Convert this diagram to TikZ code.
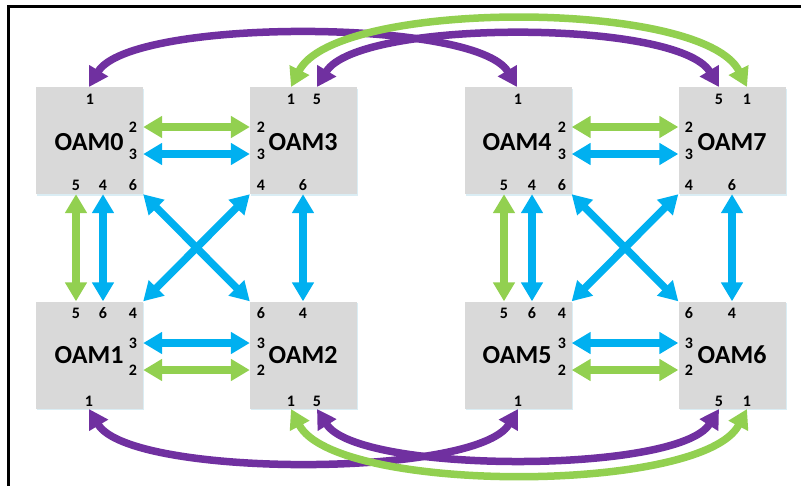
\documentclass[tikz,border=0pt]{standalone}
\usepackage{fontspec}
\setmainfont{Carlito}
\usetikzlibrary{arrows.meta,shadows}
\definecolor{cgreen}{HTML}{92D050}
\definecolor{cblue}{HTML}{00B0F0}
\definecolor{cpurple}{HTML}{7030A0}
\definecolor{cbox}{HTML}{D9D9D9}
\tikzset{
  oambox/.style={draw=none,fill=cbox,minimum width=107pt,minimum height=107pt,inner sep=0pt,
    drop shadow={opacity=0.18,shadow xshift=1pt,shadow yshift=-1.5pt,fill=cblue!60!gray}},
  oamlabel/.style={font=\bfseries\fontsize{26}{26}\selectfont,inner sep=0pt},
  port/.style={font=\bfseries\fontsize{16}{16}\selectfont,inner sep=0pt},
  link/.style={line width=7.5pt,{Triangle[width=21pt,length=19pt]}-{Triangle[width=21pt,length=19pt]}},
  glink/.style={link,draw=cgreen},
  blink/.style={link,draw=cblue},
  plink/.style={link,draw=cpurple},
}
\begin{document}
\begin{tikzpicture}[x=1pt,y=-1pt]
\useasboundingbox (0,0) rectangle (801,485);
\clip (0,0) rectangle (801,485);
\draw[line width=3pt] (8.5,6.5) rectangle (830,510);
% boxes
\node[oambox] (b0) at (89.5,140.5) {};
\node[oambox] (b3) at (303.5,140.5) {};
\node[oambox] (b4) at (518,140.5) {};
\node[oambox] (b7) at (732,140.5) {};
\node[oambox] (b1) at (89.5,355) {};
\node[oambox] (b2) at (303.5,355) {};
\node[oambox] (b5) at (518,355) {};
\node[oambox] (b6) at (732,355) {};
% labels
\node[oamlabel] (l0) at (89,142) {OAM0};
\node[oamlabel] (l3) at (303,142) {OAM3};
\node[oamlabel] (l4) at (517,142) {OAM4};
\node[oamlabel] (l7) at (732,142) {OAM7};
\node[oamlabel] (l1) at (89,355) {OAM1};
\node[oamlabel] (l2) at (303,355) {OAM2};
\node[oamlabel] (l5) at (517,355) {OAM5};
\node[oamlabel] (l6) at (732,355) {OAM6};
% ports OAM0
\node[port] (n0a) at (90,99) {1};
\node[port] (n0b) at (133,127) {2};
\node[port] (n0c) at (133,154) {3};
\node[port] (n0d) at (76,185) {5};
\node[port] (n0e) at (103,185) {4};
\node[port] (n0f) at (133,185) {6};
% OAM3
\node[port] (n3a) at (291,99) {1};
\node[port] (n3b) at (317,99) {5};
\node[port] (n3c) at (261,127) {2};
\node[port] (n3d) at (261,154) {3};
\node[port] (n3e) at (261,185) {4};
\node[port] (n3f) at (303,185) {6};
% OAM4
\node[port] (n4a) at (518,99) {1};
\node[port] (n4b) at (562,127) {2};
\node[port] (n4c) at (562,154) {3};
\node[port] (n4d) at (504,185) {5};
\node[port] (n4e) at (532,185) {4};
\node[port] (n4f) at (562,185) {6};
% OAM7
\node[port] (n7a) at (719,99) {5};
\node[port] (n7b) at (747,99) {1};
\node[port] (n7c) at (689,127) {2};
\node[port] (n7d) at (689,154) {3};
\node[port] (n7e) at (689,185) {4};
\node[port] (n7f) at (732,185) {6};
% OAM1
\node[port] (n1a) at (76,313) {5};
\node[port] (n1b) at (103,313) {6};
\node[port] (n1c) at (133,313) {4};
\node[port] (n1d) at (133,343) {3};
\node[port] (n1e) at (133,370) {2};
\node[port] (n1f) at (89,401) {1};
% OAM2
\node[port] (n2a) at (261,313) {6};
\node[port] (n2b) at (303,313) {4};
\node[port] (n2c) at (261,343) {3};
\node[port] (n2d) at (261,370) {2};
\node[port] (n2e) at (291,401) {1};
\node[port] (n2f) at (317,401) {5};
% OAM5
\node[port] (n5a) at (504,313) {5};
\node[port] (n5b) at (532,313) {6};
\node[port] (n5c) at (562,313) {4};
\node[port] (n5d) at (562,343) {3};
\node[port] (n5e) at (562,370) {2};
\node[port] (n5f) at (518,401) {1};
% OAM6
\node[port] (n6a) at (689,313) {6};
\node[port] (n6b) at (732,313) {4};
\node[port] (n6c) at (689,343) {3};
\node[port] (n6d) at (689,370) {2};
\node[port] (n6e) at (719,401) {5};
\node[port] (n6f) at (747,401) {1};
% connector end points
\coordinate (t0) at (89,87);   \coordinate (t4) at (517,87);
\coordinate (t3a) at (291,87); \coordinate (t3b) at (317,87);
\coordinate (t7a) at (719,87); \coordinate (t7b) at (747,87);
\coordinate (u1) at (89,409);  \coordinate (u5) at (518,409);
\coordinate (u2a) at (291,409);\coordinate (u2b) at (317,409);
\coordinate (u6a) at (719,409);\coordinate (u6b) at (747,409);
% horizontal links
\draw[glink] (b0.east |- n0b) -- (b3.west |- n3c);
\draw[blink] (b0.east |- n0c) -- (b3.west |- n3d);
\draw[blink] (b1.east |- n1d) -- (b2.west |- n2c);
\draw[glink] (b1.east |- n1e) -- (b2.west |- n2d);
\draw[glink] (b4.east |- n4b) -- (b7.west |- n7c);
\draw[blink] (b4.east |- n4c) -- (b7.west |- n7d);
\draw[blink] (b5.east |- n5d) -- (b6.west |- n6c);
\draw[glink] (b5.east |- n5e) -- (b6.west |- n6d);
% vertical links
\draw[glink] (n0d |- b0.south) -- (n1a |- b1.north);
\draw[blink] (n0e |- b0.south) -- (n1b |- b1.north);
\draw[blink] (n3f |- b3.south) -- (n2b |- b2.north);
\draw[glink] (n4d |- b4.south) -- (n5a |- b5.north);
\draw[blink] (n4e |- b4.south) -- (n5b |- b5.north);
\draw[blink] (n7f |- b7.south) -- (n6b |- b6.north);
% diagonals
\draw[blink] (b0.south east) -- (b2.north west);
\draw[blink] (b3.south west) -- (b1.north east);
\draw[blink] (b4.south east) -- (b6.north west);
\draw[blink] (b7.south west) -- (b5.north east);
% top arcs
\draw[plink] (t0) .. controls (130,18) and (476,18) .. (t4);
\draw[glink] (t3a) .. controls (335,-1) and (703,-1) .. (t7b);
\draw[plink] (t3b) .. controls (358,19) and (678,19) .. (t7a);
% bottom arcs
\draw[plink] (u1) .. controls (130,478) and (477,478) .. (u5);
\draw[glink] (u2a) .. controls (335,494) and (703,494) .. (u6b);
\draw[plink] (u2b) .. controls (358,474) and (678,474) .. (u6a);
\end{tikzpicture}
\end{document}
